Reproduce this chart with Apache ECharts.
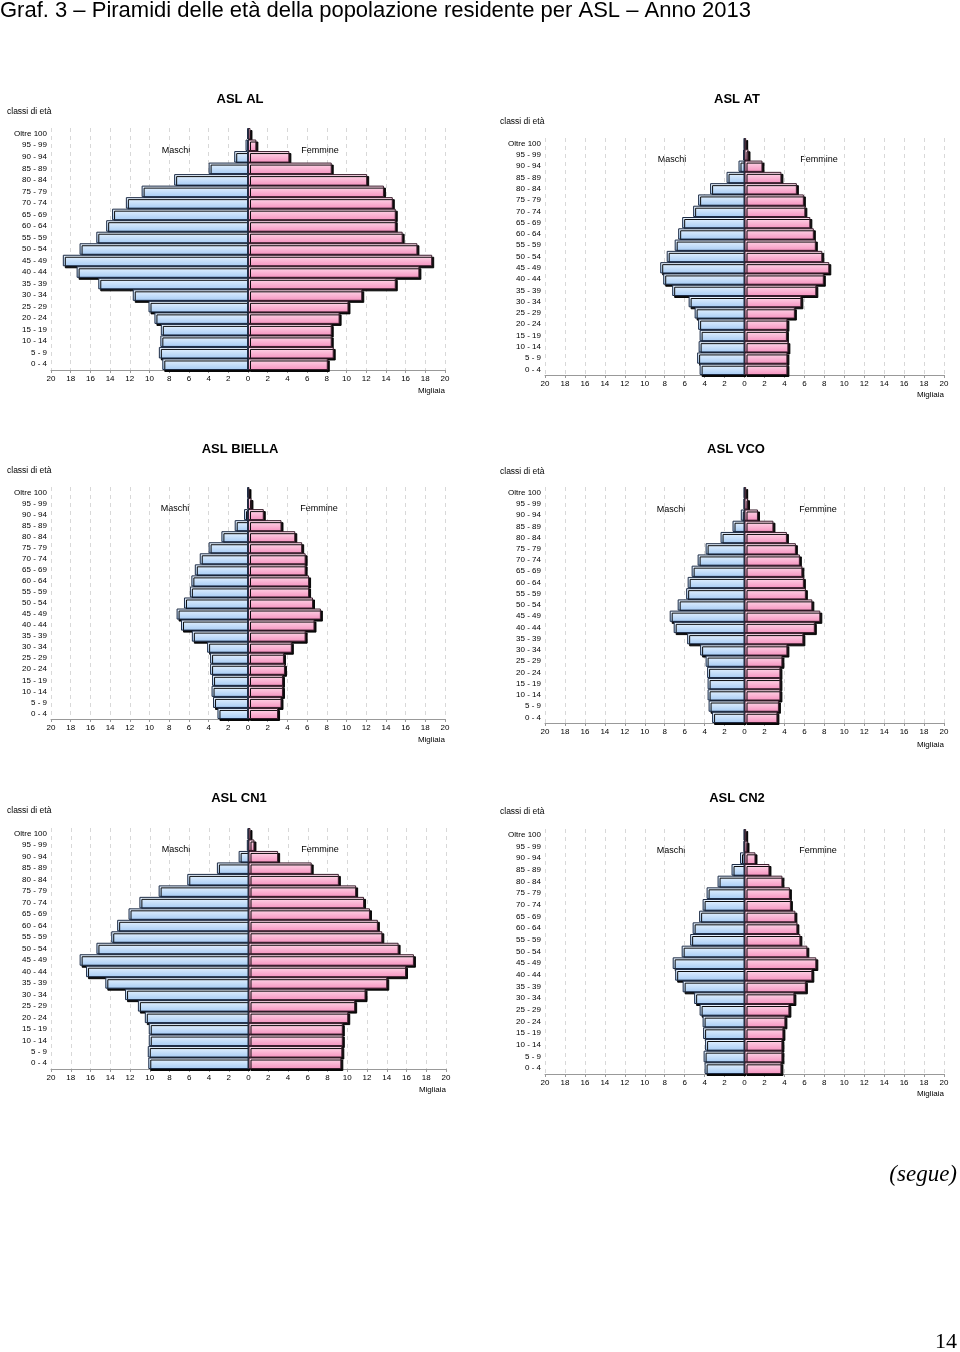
<!DOCTYPE html>
<html>
<head>
<meta charset="utf-8">
<script src="https://cdn.jsdelivr.net/npm/echarts@6/dist/echarts.min.js"></script>
<style>
html,body{margin:0;padding:0;background:#fff;}
#chart{width:960px;height:1352px;}
</style>
</head>
<body>
<div id="chart"></div>
<script>
// Age classes, top to bottom
var categories = ['Oltre 100','95 - 99','90 - 94','85 - 89','80 - 84','75 - 79','70 - 74','65 - 69','60 - 64','55 - 59','50 - 54','45 - 49','40 - 44','35 - 39','30 - 34','25 - 29','20 - 24','15 - 19','10 - 14','5 - 9','0 - 4'];
var xTicks = [-20,-18,-16,-14,-12,-10,-8,-6,-4,-2,0,2,4,6,8,10,12,14,16,18,20];

// Values in thousands (Migliaia), top to bottom
var alMaschi = [0.1,0.25,1.4,4.0,7.5,10.8,12.4,13.8,14.4,15.4,17.1,18.8,17.4,15.2,11.7,10.1,9.5,8.85,8.9,9.05,8.7];
var alFemmine = [0.25,0.85,4.2,8.5,12.1,13.8,14.7,15.0,15.0,15.7,17.2,18.7,17.4,15.0,11.6,10.2,9.3,8.5,8.5,8.7,8.1];
var atMaschi = [0.07,0.15,0.6,1.8,3.45,4.65,5.15,6.25,6.65,7.0,7.8,8.45,8.15,7.25,5.6,5.0,4.65,4.5,4.6,4.75,4.5];
var atFemmine = [0.17,0.4,1.8,3.7,5.25,5.95,6.1,6.6,6.95,7.15,7.8,8.5,7.95,7.2,5.7,5.05,4.3,4.25,4.4,4.3,4.3];
var biMaschi = [0.07,0.1,0.4,1.35,2.7,4.0,4.9,5.4,5.75,5.9,6.5,7.25,6.8,5.7,4.15,3.85,3.85,3.65,3.7,3.55,3.1];
var biFemmine = [0.15,0.35,1.6,3.4,4.8,5.5,5.85,5.85,6.2,6.2,6.6,7.4,6.75,5.85,4.45,3.65,3.75,3.55,3.55,3.4,3.05];
var vcoMaschi = [0.07,0.1,0.37,1.2,2.4,3.9,4.7,5.3,5.7,5.85,6.7,7.5,7.1,5.75,4.45,3.9,3.75,3.7,3.7,3.6,3.25];
var vcoFemmine = [0.17,0.35,1.35,2.9,4.25,5.15,5.55,5.8,5.95,6.15,6.8,7.6,7.05,5.9,4.3,3.8,3.6,3.6,3.6,3.45,3.3];
var cn1Maschi = [0.1,0.17,1.0,3.2,6.2,9.1,11.05,12.15,13.3,13.9,15.4,17.1,16.45,14.5,12.5,11.2,10.5,10.1,10.1,10.2,10.15];
var cn1Femmine = [0.2,0.6,3.0,6.4,9.15,10.9,11.7,12.3,13.1,13.55,15.2,16.75,15.95,14.05,11.85,10.8,10.1,9.55,9.55,9.5,9.4];
var cn2Maschi = [0.07,0.1,0.45,1.3,2.7,3.8,4.2,4.55,5.2,5.45,6.3,7.2,6.95,6.2,5.05,4.5,4.2,4.15,3.95,4.1,4.0];
var cn2Femmine = [0.17,0.3,1.1,2.5,3.8,4.55,4.65,5.1,5.3,5.6,6.3,7.2,6.8,6.15,5.0,4.5,4.1,3.9,3.8,3.8,3.7];

var panelNames = ['ASL AL','ASL AT','ASL BIELLA','ASL VCO','ASL CN1','ASL CN2'];
var maschiData = [alMaschi, atMaschi, biMaschi, vcoMaschi, cn1Maschi, cn2Maschi];
var femmineData = [alFemmine, atFemmine, biFemmine, vcoFemmine, cn1Femmine, cn2Femmine];

// Layout (pixels)
var layouts = [
  {left:51, top:128, width:394, height:242, titleX:240, titleY:99, classiY:112, classiX:7, labelsY:151, maschiX:176, femmineX:320, migY:391},
  {left:545, top:138, width:399, height:237, titleX:737, titleY:99, classiY:122, classiX:500, labelsY:160, maschiX:672, femmineX:819, migY:395},
  {left:51, top:487, width:394, height:232, titleX:240, titleY:449, classiY:471, classiX:7, labelsY:509, maschiX:175, femmineX:319, migY:740},
  {left:545, top:487, width:399, height:236, titleX:736, titleY:449, classiY:472, classiX:500, labelsY:510, maschiX:671, femmineX:818, migY:745},
  {left:51, top:828, width:395, height:241, titleX:239, titleY:798, classiY:811, classiX:7, labelsY:850, maschiX:176, femmineX:320, migY:1090},
  {left:545, top:829, width:399, height:245, titleX:737, titleY:798, classiY:812, classiX:500, labelsY:851, maschiX:671, femmineX:818, migY:1094}
];

var FONT = '"Liberation Sans", Arial, sans-serif';

var blueGrad = new echarts.graphic.LinearGradient(0,0,0,1,[
  {offset:0, color:'#f2f8ff'},
  {offset:0.35, color:'#d3e7fc'},
  {offset:1, color:'#a6cbf4'}
]);
var pinkGrad = new echarts.graphic.LinearGradient(0,0,0,1,[
  {offset:0, color:'#ffe6f1'},
  {offset:0.35, color:'#fcc3dc'},
  {offset:1, color:'#f592bf'}
]);

var grids = [], xAxes = [], yAxes = [], series = [], graphics = [];

layouts.forEach(function(L, i){
  grids.push({left:L.left, top:L.top, width:L.width, height:L.height, containLabel:false});
  xAxes.push({
    type:'value', gridIndex:i, min:-20, max:20, interval:2,
    axisLine:{show:true, lineStyle:{color:'#999', width:1}},
    axisTick:{show:true, length:3, lineStyle:{color:'#999'}},
    axisLabel:{fontSize:8, color:'#000', fontFamily:FONT, margin:5,
      formatter:function(v){ return String(Math.abs(v)); }},
    splitLine:{show:true, lineStyle:{color:'#d8d8d8', type:[4,4], width:1}}
  });
  yAxes.push({
    type:'category', gridIndex:i, data:categories, inverse:true,
    axisLine:{show:false, onZero:false},
    axisTick:{show:false},
    axisLabel:{fontSize:8, color:'#000', fontFamily:FONT, margin:4}
  });
  series.push({
    name:'Maschi', type:'bar', xAxisIndex:i, yAxisIndex:i,
    data:maschiData[i].map(function(v){ return -v; }),
    barCategoryGap:'0%', barGap:'-100%',
    itemStyle:{color:blueGrad, borderColor:'#1d2c46', borderWidth:1,
      shadowColor:'rgba(0,0,0,0.95)', shadowOffsetX:2, shadowOffsetY:2, shadowBlur:0},
    silent:true, animation:false
  });
  series.push({
    name:'Femmine', type:'bar', xAxisIndex:i, yAxisIndex:i,
    data:femmineData[i],
    barCategoryGap:'0%', barGap:'-100%',
    itemStyle:{color:pinkGrad, borderColor:'#3a1d2c', borderWidth:1,
      shadowColor:'rgba(0,0,0,0.95)', shadowOffsetX:2, shadowOffsetY:2, shadowBlur:0},
    markLine:{silent:true, symbol:['none','none'], label:{show:false},
      lineStyle:{color:'#2a2a3a', width:1, type:'solid'}, data:[{xAxis:0}], animation:false},
    silent:true, animation:false
  });
  graphics.push({type:'text', left:null, x:L.titleX, y:L.titleY,
    style:{text:panelNames[i], font:'bold 13px ' + FONT, fill:'#000', textAlign:'center', textVerticalAlign:'middle'}});
  graphics.push({type:'text', x:L.classiX, y:L.classiY,
    style:{text:'classi di età', font:'8.5px ' + FONT, fill:'#000', textAlign:'left', textVerticalAlign:'middle'}});
  graphics.push({type:'text', x:L.maschiX, y:L.labelsY,
    style:{text:'Maschi', font:'9px ' + FONT, fill:'#000', textAlign:'center', textVerticalAlign:'middle'}});
  graphics.push({type:'text', x:L.femmineX, y:L.labelsY,
    style:{text:'Femmine', font:'9px ' + FONT, fill:'#000', textAlign:'center', textVerticalAlign:'middle'}});
  graphics.push({type:'text', x:L.left + L.width, y:L.migY,
    style:{text:'Migliaia', font:'8px ' + FONT, fill:'#000', textAlign:'right', textVerticalAlign:'middle'}});
});

graphics.push({type:'text', x:0, y:11,
  style:{text:'Graf. 3 \u2013 Piramidi delle età della popolazione residente per ASL \u2013 Anno 2013',
    font:'22px "Liberation Sans Narrow", "Arial Narrow", ' + FONT, fill:'#000', textAlign:'left', textVerticalAlign:'middle'}});
graphics.push({type:'text', x:957, y:1175,
  style:{text:'(segue)', font:'italic 23px "Liberation Serif", "Times New Roman", serif', fill:'#000', textAlign:'right', textVerticalAlign:'middle'}});
graphics.push({type:'text', x:957, y:1342,
  style:{text:'14', font:'22px "Liberation Serif", "Times New Roman", serif', fill:'#000', textAlign:'right', textVerticalAlign:'middle'}});

var chart = echarts.init(document.getElementById('chart'), null, {renderer:'canvas'});
chart.setOption({
  animation:false,
  backgroundColor:'#fff',
  grid:grids,
  xAxis:xAxes,
  yAxis:yAxes,
  series:series,
  graphic:graphics
});
</script>
</body>
</html>
